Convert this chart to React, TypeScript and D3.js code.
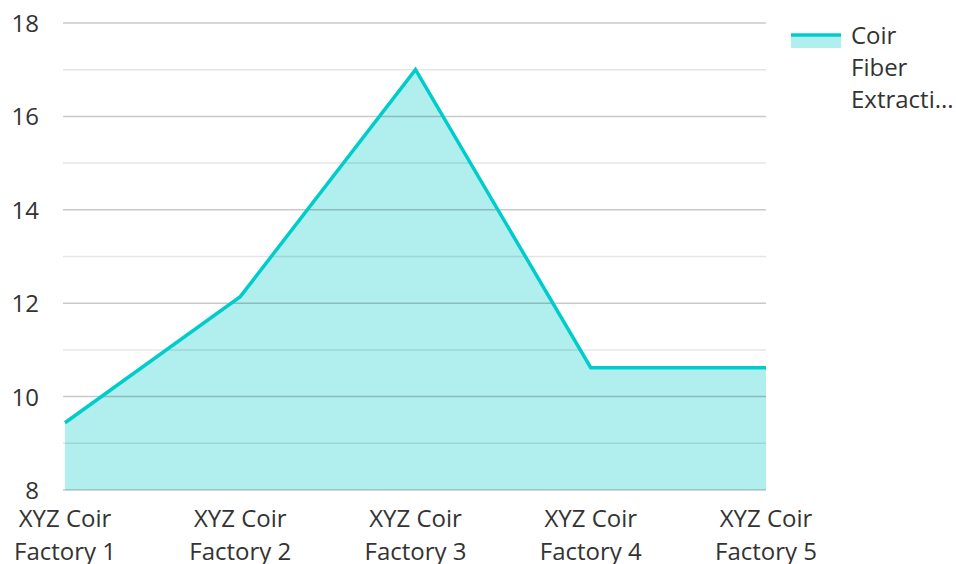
import React, { useEffect, useRef } from "react";
import * as d3 from "d3";

// chart data
const categories = [
  "XYZ Coir Factory 1",
  "XYZ Coir Factory 2",
  "XYZ Coir Factory 3",
  "XYZ Coir Factory 4",
  "XYZ Coir Factory 5",
];
const values = [9.44, 12.14, 17.0, 10.62, 10.62];
const seriesName = ["Coir", "Fiber", "Extracti..."];
const yTicks = [8, 10, 12, 14, 16, 18];

const App = () => {
  const ref = useRef<SVGSVGElement>(null);

  useEffect(() => {
    const svg = d3.select(ref.current);
    svg.selectAll("*").remove();

    const left = 65, right = 766, top = 23, bottom = 490;
    const font = "'Open Sans', 'Noto Sans', sans-serif";

    const x = d3.scalePoint<string>().domain(categories).range([left, right]);
    const y = d3.scaleLinear().domain([8, 18]).range([bottom, top]);

    // area under the line
    const area = d3.area<number>()
      .x((d, i) => x(categories[i])!)
      .y0(bottom)
      .y1(d => y(d));
    svg.append("path")
      .attr("d", area(values)!)
      .attr("fill", "#b0efed");

    // grid lines, semi transparent so they show through the fill
    const grid = svg.append("g");
    d3.range(8, 18.5, 1).forEach(v => {
      const major = v % 2 === 0;
      grid.append("line")
        .attr("x1", left - 2).attr("x2", right)
        .attr("y1", y(v)).attr("y2", y(v))
        .attr("stroke", "#000")
        .attr("stroke-opacity", major ? 0.21 : 0.1)
        .attr("stroke-width", 1.5);
    });

    const line = d3.line<number>()
      .x((d, i) => x(categories[i])!)
      .y(d => y(d));
    svg.append("path")
      .attr("d", line(values)!)
      .attr("fill", "none")
      .attr("stroke", "#00cccc")
      .attr("stroke-width", 3.5);

    // y labels
    svg.append("g").selectAll("text")
      .data(yTicks)
      .enter()
      .append("text")
      .attr("x", 39)
      .attr("y", d => y(d) + 9)
      .attr("text-anchor", "end")
      .attr("font-family", font)
      .attr("font-size", 24)
      .attr("fill", "#333")
      .text(d => d);

    // x labels
    const xl = svg.append("g");
    categories.forEach(c => {
      const words = c.split(" ");
      const t = xl.append("text")
        .attr("text-anchor", "middle")
        .attr("font-family", font)
        .attr("font-size", 24)
        .attr("fill", "#333");
      t.append("tspan").attr("x", x(c)!).attr("y", 527).text(words.slice(0, 2).join(" "));
      t.append("tspan").attr("x", x(c)!).attr("y", 560).text(words.slice(2).join(" "));
    });

    // legend
    const lg = svg.append("g");
    lg.append("rect")
      .attr("x", 791).attr("y", 34).attr("width", 50).attr("height", 14)
      .attr("fill", "#b0efed");
    lg.append("line")
      .attr("x1", 791).attr("x2", 841).attr("y1", 35).attr("y2", 35)
      .attr("stroke", "#00cccc").attr("stroke-width", 3.5);
    seriesName.forEach((s, i) => {
      lg.append("text")
        .attr("x", 851).attr("y", 44 + i * 32)
        .attr("font-family", font)
        .attr("font-size", 24)
        .attr("fill", "#333")
        .text(s);
    });
  }, []);

  return <svg ref={ref} width={956} height={564} style={{ position: "absolute", left: 0, top: 0 }} />;
};

export default App;
